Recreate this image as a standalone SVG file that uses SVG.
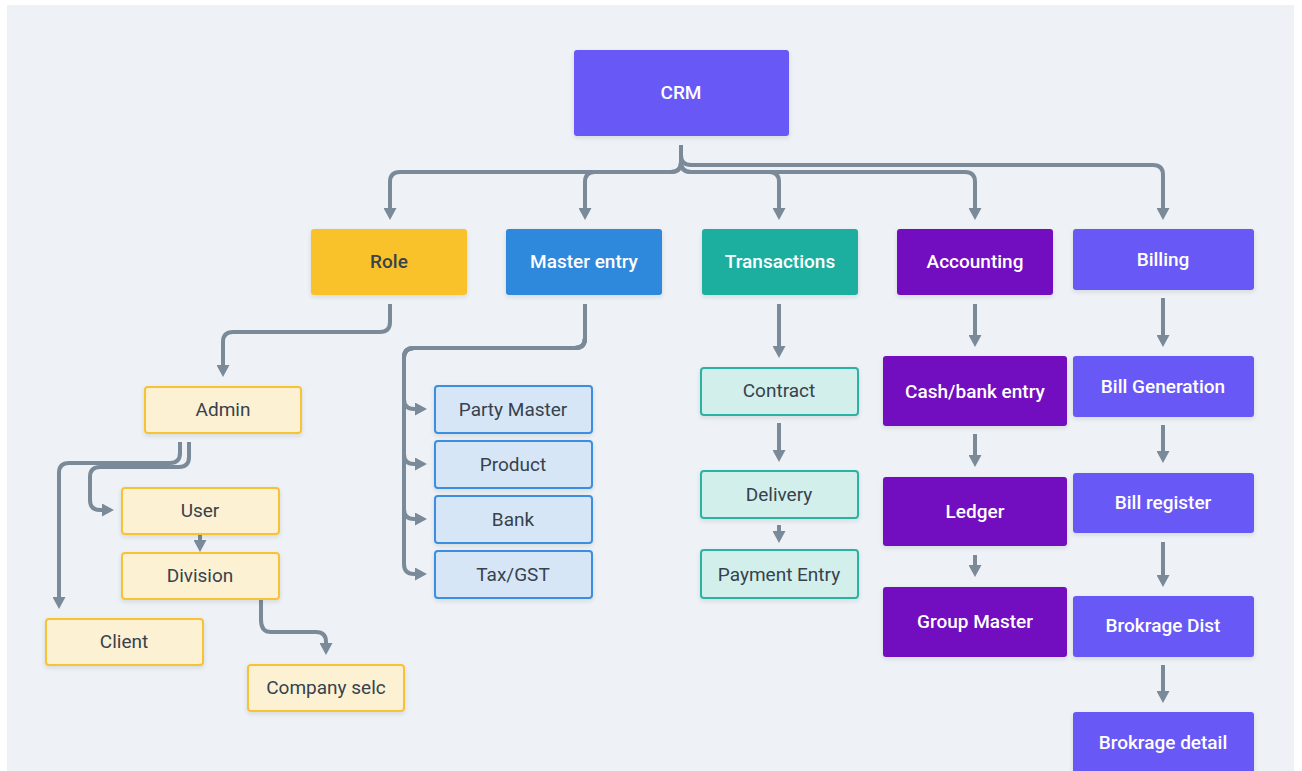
<svg xmlns="http://www.w3.org/2000/svg" width="1302" height="771" viewBox="0 0 1302 771">
<defs>
<filter id="sh" x="-10%" y="-10%" width="120%" height="130%">
<feDropShadow dx="0" dy="2" stdDeviation="2" flood-color="#1a2a3a" flood-opacity="0.12"/>
</filter>
<marker id="ah" viewBox="0 0 12 13" refX="4" refY="6.5" markerWidth="12" markerHeight="13" markerUnits="userSpaceOnUse" orient="auto">
<path d="M0,0 L12,6.5 L0,13 z" fill="#7b8a98"/>
</marker>
<style>
text{font-family:Roboto,"Liberation Sans",sans-serif;font-size:19px;text-anchor:middle;dominant-baseline:central}
.w{fill:#ffffff;font-weight:500}
.d{fill:#37424d;font-weight:400}
.dr{fill:#37424d;font-weight:500}
.cn path{fill:none;stroke:#7b8a98;stroke-width:4;marker-end:url(#ah)}
.crm{fill:#6759f6}
.role{fill:#f9c22b}
.mst{fill:#2f89dc}
.trn{fill:#1aae9f}
.acc{fill:#7210c0}
.bil{fill:#6759f6}
.ly{fill:#fdf1d3;stroke:#f8c234;stroke-width:2}
.lb{fill:#d6e6f6;stroke:#3a8ee0;stroke-width:2}
.lt{fill:#d2efec;stroke:#2bb3a2;stroke-width:2}
rect{filter:url(#sh)}
</style>
</defs>
<rect x="0" y="0" width="1302" height="771" fill="#ffffff" style="filter:none"/>
<rect x="7" y="5" width="1287" height="766" fill="#eef2f6" style="filter:none"/>

<g id="connectors" class="cn">
<path d="M681,145 V162 Q681,172 671,172 H400 Q390,172 390,182 V212"/>
<path d="M681,145 V162 Q681,172 671,172 H595 Q585,172 585,182 V212"/>
<path d="M681,145 V162 Q681,172 691,172 H769 Q779,172 779,182 V212"/>
<path d="M681,145 V162 Q681,172 691,172 H965 Q975,172 975,182 V212"/>
<path d="M681,145 V155 Q681,165 691,165 H1153 Q1163,165 1163,175 V212"/>
<path d="M390,304 V322 Q390,332 380,332 H233 Q223,332 223,342 V369"/>
<path d="M180,442 V453 Q180,463 170,463 H69 Q59,463 59,473 V601"/>
<path d="M189,442 V457 Q189,467 179,467 H100 Q90,467 90,477 V500 Q90,510 100,510 H106"/>
<path d="M200,535 V544"/>
<path d="M261,598 V620 Q261,632 271,632 H316 Q326,632 326,642 V647"/>
<path d="M585,304 V338 Q585,348 575,348 H414 Q404,348 404,358 V399 Q404,409 414,409 H419"/>
<path d="M585,304 V338 Q585,348 575,348 H414 Q404,348 404,358 V454 Q404,464 414,464 H419"/>
<path d="M585,304 V338 Q585,348 575,348 H414 Q404,348 404,358 V509 Q404,519 414,519 H419"/>
<path d="M585,304 V338 Q585,348 575,348 H414 Q404,348 404,358 V564 Q404,574 414,574 H419"/>
<path d="M779,304 V350"/>
<path d="M779,423 V454"/>
<path d="M779,525 V535"/>
<path d="M975,304 V339"/>
<path d="M975,434 V459"/>
<path d="M975,555 V569"/>
<path d="M1163,298 V339"/>
<path d="M1163,425 V455"/>
<path d="M1163,542 V579"/>
<path d="M1163,665 V695"/>
</g>

<g id="crm"><rect class="crm" x="574" y="50" width="215" height="86" rx="3"/><text class="w" x="681" y="92">CRM</text></g>
<g id="role"><rect class="role" x="311" y="229" width="156" height="66" rx="3"/><text class="dr" x="389" y="261">Role</text></g>
<g id="master-entry"><rect class="mst" x="506" y="229" width="156" height="66" rx="3"/><text class="w" x="584" y="261">Master entry</text></g>
<g id="transactions"><rect class="trn" x="702" y="229" width="156" height="66" rx="3"/><text class="w" x="780" y="261">Transactions</text></g>
<g id="accounting"><rect class="acc" x="897" y="229" width="156" height="66" rx="3"/><text class="w" x="975" y="261">Accounting</text></g>
<g id="billing"><rect class="bil" x="1073" y="229" width="181" height="61" rx="3"/><text class="w" x="1163" y="259">Billing</text></g>

<g id="admin"><rect class="ly" x="145" y="387" width="156" height="46" rx="3"/><text class="d" x="223" y="409">Admin</text></g>
<g id="user"><rect class="ly" x="122" y="488" width="157" height="46" rx="3"/><text class="d" x="200" y="510">User</text></g>
<g id="division"><rect class="ly" x="122" y="553" width="157" height="46" rx="3"/><text class="d" x="200" y="575">Division</text></g>
<g id="client"><rect class="ly" x="46" y="619" width="157" height="46" rx="3"/><text class="d" x="124" y="641">Client</text></g>
<g id="company-selc"><rect class="ly" x="248" y="665" width="156" height="46" rx="3"/><text class="d" x="326" y="687">Company selc</text></g>

<g id="party-master"><rect class="lb" x="435" y="386" width="157" height="47" rx="3"/><text class="d" x="513" y="409">Party Master</text></g>
<g id="product"><rect class="lb" x="435" y="441" width="157" height="47" rx="3"/><text class="d" x="513" y="464">Product</text></g>
<g id="bank"><rect class="lb" x="435" y="496" width="157" height="47" rx="3"/><text class="d" x="513" y="519">Bank</text></g>
<g id="tax-gst"><rect class="lb" x="435" y="551" width="157" height="47" rx="3"/><text class="d" x="513" y="574">Tax/GST</text></g>

<g id="contract"><rect class="lt" x="701" y="368" width="157" height="47" rx="3"/><text class="d" x="779" y="390">Contract</text></g>
<g id="delivery"><rect class="lt" x="701" y="471" width="157" height="47" rx="3"/><text class="d" x="779" y="494">Delivery</text></g>
<g id="payment-entry"><rect class="lt" x="701" y="550" width="157" height="48" rx="3"/><text class="d" x="779" y="574">Payment Entry</text></g>

<g id="cash-bank-entry"><rect class="acc" x="883" y="356" width="184" height="70" rx="3"/><text class="w" x="975" y="391">Cash/bank entry</text></g>
<g id="ledger"><rect class="acc" x="883" y="477" width="184" height="69" rx="3"/><text class="w" x="975" y="511">Ledger</text></g>
<g id="group-master"><rect class="acc" x="883" y="587" width="184" height="70" rx="3"/><text class="w" x="975" y="621">Group Master</text></g>

<g id="bill-generation"><rect class="bil" x="1073" y="356" width="181" height="61" rx="3"/><text class="w" x="1163" y="386">Bill Generation</text></g>
<g id="bill-register"><rect class="bil" x="1073" y="473" width="181" height="60" rx="3"/><text class="w" x="1163" y="502">Bill register</text></g>
<g id="brokrage-dist"><rect class="bil" x="1073" y="596" width="181" height="61" rx="3"/><text class="w" x="1163" y="625">Brokrage Dist</text></g>
<g id="brokrage-detail"><rect class="bil" x="1073" y="712" width="181" height="70" rx="3"/><text class="w" x="1163" y="742">Brokrage detail</text></g>
</svg>
